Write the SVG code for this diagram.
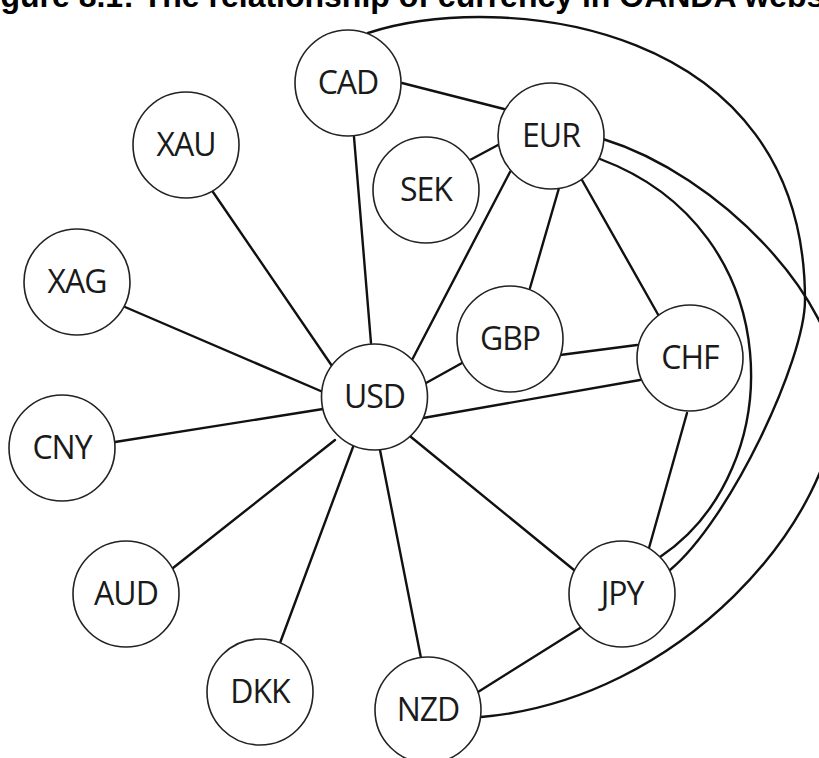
<svg xmlns="http://www.w3.org/2000/svg" width="819" height="758" viewBox="0 0 819 758">
<style>
.bg{fill:#ffffff}
.title{font-family:"Liberation Sans",Arial,sans-serif;font-weight:bold;font-size:32px;fill:#000}
.edge{stroke:#111;stroke-width:2.4;fill:none;stroke-linecap:round}
.node circle{fill:#fff;stroke:#222;stroke-width:1.6}
.node text{font-family:"Open Sans","Noto Sans",sans-serif;font-size:32px;letter-spacing:-1px;fill:#1a1a1a;text-anchor:middle}
</style>
<rect class="bg" x="0" y="0" width="819" height="758"/>
<text class="title" x="-28" y="7">Figure 8.1: The relationship of currency in OANDA website</text>
<g id="connectors">
<line class="edge" x1="402" y1="83" x2="504" y2="109"/>
<line class="edge" x1="354" y1="137" x2="371" y2="343"/>
<line class="edge" x1="470" y1="160" x2="498" y2="145"/>
<line class="edge" x1="213" y1="192" x2="332" y2="366"/>
<line class="edge" x1="125" y1="307" x2="323" y2="392"/>
<line class="edge" x1="115" y1="442" x2="323" y2="409"/>
<line class="edge" x1="173" y1="568" x2="335" y2="440"/>
<line class="edge" x1="280" y1="643" x2="353" y2="447"/>
<line class="edge" x1="421" y1="658" x2="380" y2="450"/>
<line class="edge" x1="574" y1="570" x2="411" y2="437"/>
<line class="edge" x1="640" y1="380" x2="423" y2="418"/>
<line class="edge" x1="462" y1="363" x2="426" y2="383"/>
<line class="edge" x1="510" y1="172" x2="412" y2="360"/>
<line class="edge" x1="559" y1="188" x2="530" y2="288"/>
<line class="edge" x1="582" y1="180" x2="660" y2="318"/>
<line class="edge" x1="560" y1="355" x2="637" y2="345"/>
<line class="edge" x1="687" y1="413" x2="649" y2="548"/>
<line class="edge" x1="580" y1="628" x2="478" y2="692"/>
<path class="edge" d="M600,159 C790,230 790,470 660,557"/>
<path class="edge" d="M368,33 C500,-10 805,20 805,300 C805,360 730,520 670,570"/>
<path class="edge" d="M603,139 C720,175 838,300 838,390 C838,520 680,700 481,717"/>
</g>
<g id="node-CAD" class="node"><circle cx="348" cy="83" r="53"/><text x="348" y="94">CAD</text></g>
<g id="node-EUR" class="node"><circle cx="551" cy="136" r="53"/><text x="551" y="147">EUR</text></g>
<g id="node-SEK" class="node"><circle cx="426" cy="190" r="53"/><text x="426" y="201">SEK</text></g>
<g id="node-XAU" class="node"><circle cx="186" cy="145" r="53"/><text x="186" y="156">XAU</text></g>
<g id="node-XAG" class="node"><circle cx="77" cy="282" r="53"/><text x="77" y="293">XAG</text></g>
<g id="node-CNY" class="node"><circle cx="62" cy="448" r="53"/><text x="62" y="459">CNY</text></g>
<g id="node-AUD" class="node"><circle cx="126" cy="594" r="53"/><text x="126" y="605">AUD</text></g>
<g id="node-DKK" class="node"><circle cx="260" cy="692" r="53"/><text x="260" y="703">DKK</text></g>
<g id="node-NZD" class="node"><circle cx="428" cy="710" r="53"/><text x="428" y="721">NZD</text></g>
<g id="node-JPY" class="node"><circle cx="622" cy="594" r="53"/><text x="622" y="605">JPY</text></g>
<g id="node-CHF" class="node"><circle cx="690" cy="358" r="53"/><text x="690" y="369">CHF</text></g>
<g id="node-GBP" class="node"><circle cx="510" cy="339" r="53"/><text x="510" y="350">GBP</text></g>
<g id="node-USD" class="node"><circle cx="374.5" cy="397" r="53"/><text x="374.5" y="408">USD</text></g>
</svg>
